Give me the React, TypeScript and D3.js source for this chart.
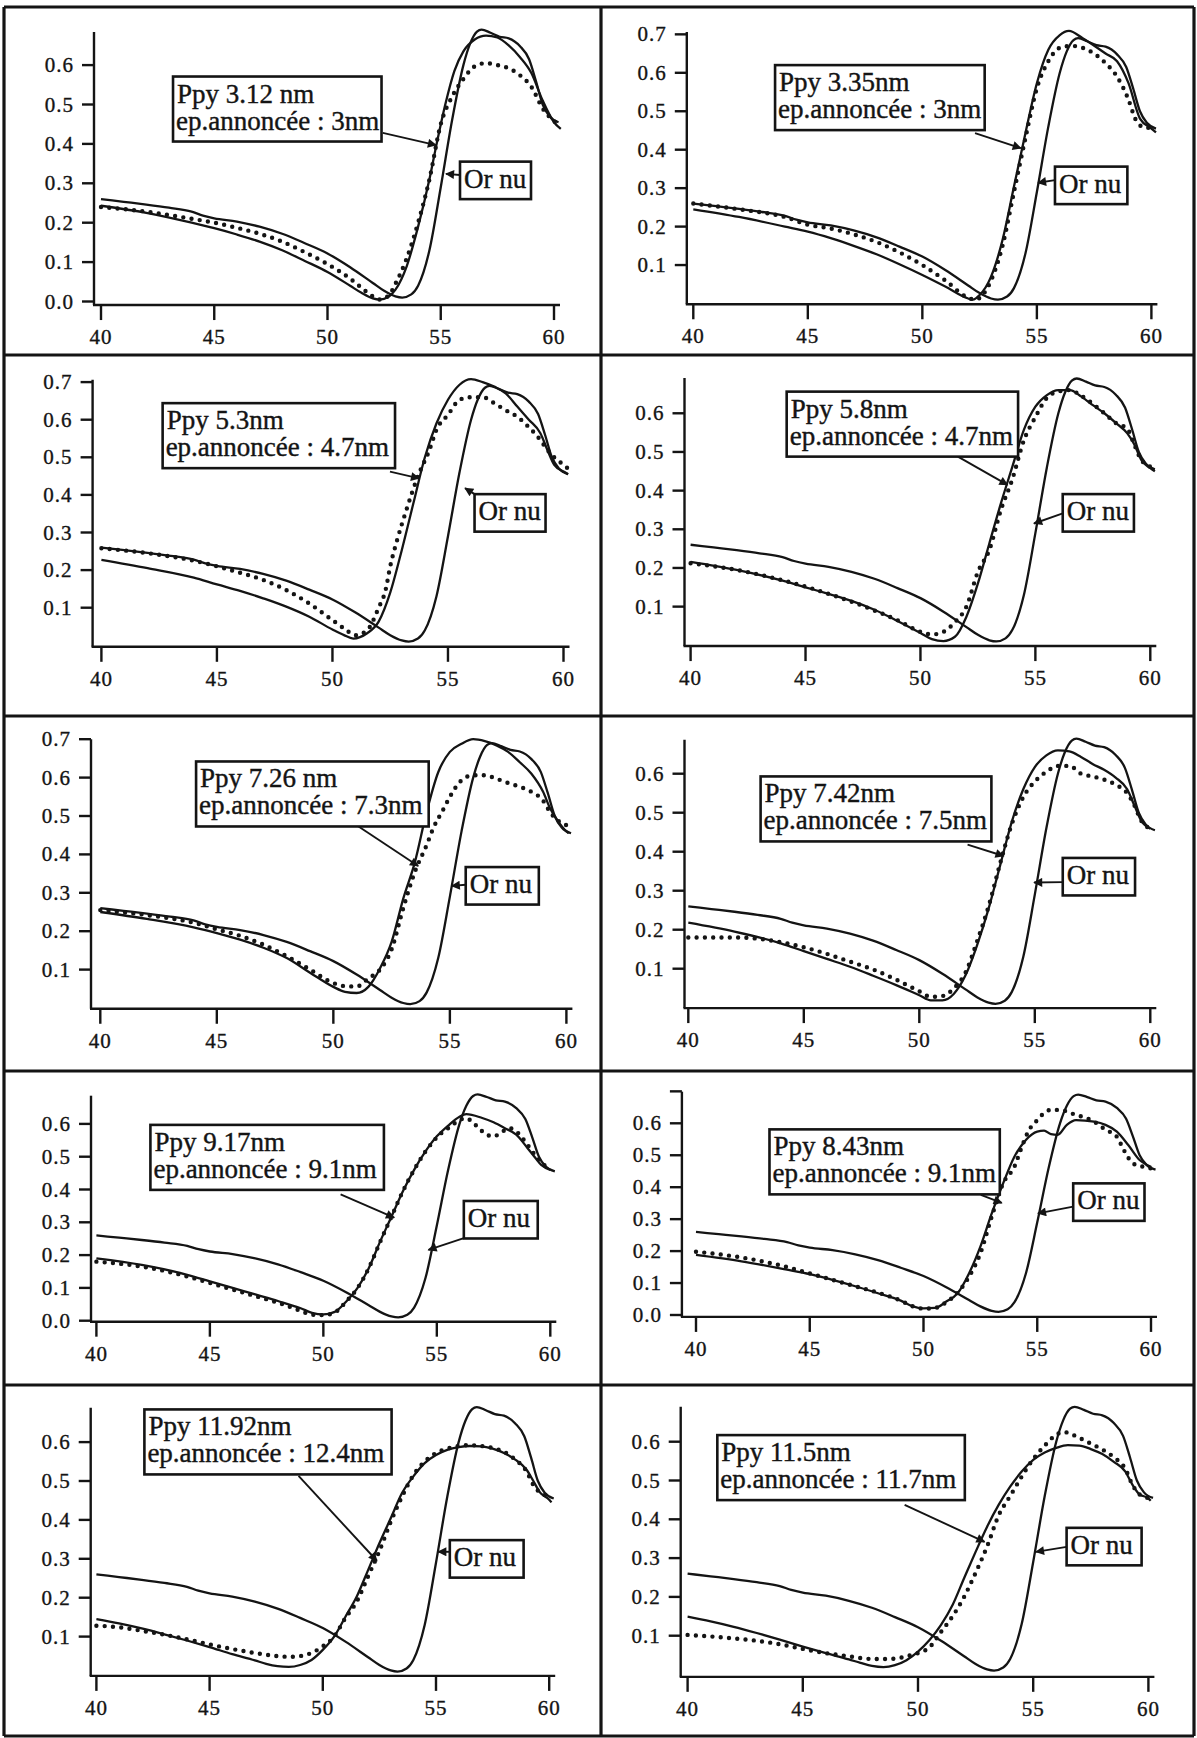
import React from "react";
import * as d3 from "d3";

type Pt = [number, number];

// ---------- DATA ----------
const X_TICKS = [40, 45, 50, 55, 60];

// bare gold reference ("Or nu"), identical in all panels
const OR_NU: Pt[] = [
  [40, 0.26], [41, 0.253], [42, 0.246], [43, 0.238], [44, 0.228], [44.5, 0.218], [45, 0.211],
  [46, 0.203], [47, 0.19], [48, 0.172], [49, 0.148], [50, 0.122], [51, 0.087], [52, 0.047],
  [52.5, 0.027], [53, 0.013], [53.3, 0.01], [53.7, 0.018], [54, 0.04], [54.5, 0.13], [55, 0.29],
  [55.5, 0.46], [56, 0.6], [56.3, 0.655], [56.6, 0.685], [56.8, 0.69], [57.2, 0.682], [57.6, 0.672],
  [58, 0.668], [58.5, 0.648], [58.9, 0.615], [59.2, 0.56], [59.5, 0.5], [59.8, 0.47], [60.2, 0.455],
];

// Ppy 3.12 nm
const FIT_312: Pt[] = [
  [40, 0.243], [42, 0.225], [44, 0.2], [45, 0.186], [46, 0.17], [47, 0.152], [48, 0.13], [49, 0.103],
  [50, 0.075], [51, 0.04], [51.5, 0.022], [52, 0.008], [52.3, 0.005], [52.7, 0.012], [53, 0.03],
  [53.5, 0.09], [54, 0.19], [54.5, 0.31], [54.8, 0.395], [55.2, 0.5], [55.6, 0.585], [56, 0.635],
  [56.5, 0.665], [57, 0.675], [57.5, 0.67], [58, 0.65], [58.5, 0.62], [59, 0.58], [59.5, 0.51],
  [60, 0.455], [60.3, 0.438],
];
const EXP_312: Pt[] = [
  [40, 0.24], [42, 0.228], [44, 0.21], [45, 0.2], [46, 0.187], [47, 0.172], [48, 0.152], [49, 0.125],
  [50, 0.095], [51, 0.058], [51.5, 0.035], [52, 0.013], [52.3, 0.005], [52.7, 0.015], [53, 0.045],
  [53.5, 0.11], [54, 0.2], [54.5, 0.31], [55, 0.45], [55.5, 0.52], [56, 0.565], [56.5, 0.597],
  [57, 0.605], [57.5, 0.6], [58, 0.592], [58.5, 0.574], [59, 0.545], [59.5, 0.49], [60, 0.458],
  [60.3, 0.445],
];

// Ppy 3.35 nm
const FIT_335: Pt[] = [
  [40, 0.245], [42, 0.225], [44, 0.2], [45, 0.187], [46, 0.17], [47, 0.15], [48, 0.128], [49, 0.102],
  [50, 0.074], [51, 0.044], [52, 0.013], [52.2, 0.01], [52.5, 0.022], [53, 0.07], [53.5, 0.165],
  [54, 0.304], [54.5, 0.443], [55, 0.573], [55.5, 0.66], [56, 0.698], [56.4, 0.709], [57, 0.69],
  [58, 0.65], [58.5, 0.63], [59, 0.573], [59.5, 0.481], [60, 0.455], [60.2, 0.445],
];
const EXP_335: Pt[] = [
  [40, 0.26], [42, 0.245], [44, 0.225], [45, 0.205], [46, 0.195], [47, 0.18], [48, 0.16], [49, 0.133],
  [50, 0.1], [51, 0.06], [52, 0.015], [52.3, 0.01], [53, 0.06], [53.5, 0.15], [54, 0.29], [54.5, 0.43],
  [55, 0.56], [55.5, 0.63], [56, 0.665], [56.5, 0.67], [57, 0.665], [57.5, 0.65], [58, 0.625],
  [58.5, 0.59], [59, 0.53], [59.3, 0.48], [59.6, 0.46], [60.2, 0.455],
];

// Ppy 5.3 nm
const FIT_53: Pt[] = [
  [40, 0.227], [42, 0.205], [44, 0.18], [45, 0.162], [46, 0.145], [47, 0.125], [48, 0.103], [49, 0.076],
  [50, 0.042], [50.5, 0.027], [50.9, 0.018], [51.5, 0.032], [52, 0.063], [52.5, 0.14], [53, 0.253],
  [53.5, 0.377], [54, 0.5], [54.5, 0.59], [55, 0.653], [55.5, 0.693], [56, 0.708], [56.5, 0.7],
  [57, 0.688], [57.5, 0.67], [58, 0.635], [58.5, 0.6], [59, 0.564], [59.3, 0.52], [59.6, 0.48],
  [60, 0.462], [60.2, 0.455],
];
const EXP_53: Pt[] = [
  [40, 0.258], [42, 0.245], [44, 0.225], [45, 0.21], [46, 0.193], [47, 0.174], [48, 0.147], [49, 0.111],
  [50, 0.067], [50.5, 0.045], [51, 0.027], [51.5, 0.04], [52, 0.1], [52.3, 0.147], [52.5, 0.21],
  [52.8, 0.28], [53.2, 0.36], [53.7, 0.45], [54.2, 0.52], [54.5, 0.573], [55, 0.613], [55.5, 0.653],
  [56, 0.66], [56.5, 0.66], [57, 0.644], [57.5, 0.625], [58, 0.608], [58.5, 0.58], [59, 0.546],
  [59.3, 0.52], [59.6, 0.5], [60, 0.48], [60.2, 0.47],
];

// Ppy 5.8 nm
const FIT_58: Pt[] = [
  [40, 0.216], [42, 0.195], [44, 0.167], [45, 0.15], [46, 0.133], [47, 0.115], [48, 0.092], [49, 0.063],
  [50, 0.032], [50.5, 0.016], [51, 0.011], [51.5, 0.022], [52, 0.074], [52.5, 0.16], [53, 0.264],
  [53.5, 0.367], [54, 0.462], [54.5, 0.557], [55, 0.617], [55.5, 0.647], [56, 0.66], [56.5, 0.66],
  [57, 0.643], [57.5, 0.621], [58, 0.6], [58.5, 0.575], [59, 0.548], [59.3, 0.52], [59.6, 0.48],
  [60, 0.458], [60.2, 0.45],
];
const EXP_58: Pt[] = [
  [40, 0.212], [42, 0.195], [44, 0.168], [45, 0.152], [46, 0.133], [47, 0.113], [48, 0.09], [49, 0.065],
  [50, 0.035], [50.5, 0.028], [51, 0.035], [51.5, 0.06], [52, 0.1], [52.5, 0.19], [53, 0.247],
  [53.5, 0.35], [54, 0.43], [54.5, 0.53], [55, 0.59], [55.5, 0.64], [56, 0.656], [56.5, 0.66],
  [57, 0.645], [58, 0.6], [58.5, 0.575], [59, 0.56], [59.3, 0.52], [59.6, 0.48], [60, 0.462],
  [60.2, 0.455],
];

// Ppy 7.26 nm
const FIT_726: Pt[] = [
  [40, 0.25], [42, 0.232], [44, 0.21], [45, 0.195], [46, 0.178], [47, 0.157], [48, 0.13], [49, 0.092],
  [50, 0.055], [50.5, 0.042], [51, 0.039], [51.5, 0.055], [52, 0.103], [52.5, 0.172], [53, 0.285],
  [53.5, 0.38], [54, 0.51], [54.5, 0.614], [55, 0.667], [55.5, 0.688], [56, 0.7], [56.5, 0.695],
  [57, 0.684], [57.5, 0.667], [58, 0.64], [58.5, 0.61], [59, 0.563], [59.3, 0.52], [59.6, 0.49],
  [60, 0.46], [60.1, 0.455],
];
const EXP_726: Pt[] = [
  [40, 0.255], [42, 0.242], [44, 0.222], [45, 0.205], [46, 0.188], [47, 0.165], [48, 0.135], [49, 0.1],
  [50, 0.065], [50.5, 0.057], [51, 0.056], [51.5, 0.077], [52, 0.1], [52.5, 0.153], [53, 0.26],
  [53.5, 0.355], [54, 0.424], [54.3, 0.47], [54.7, 0.515], [55, 0.55], [55.5, 0.593], [56, 0.606],
  [56.5, 0.606], [57, 0.597], [57.5, 0.586], [58, 0.576], [58.5, 0.563], [59, 0.54], [59.3, 0.51],
  [59.6, 0.49], [60, 0.476],
];

// Ppy 7.42 nm
const FIT_742: Pt[] = [
  [40, 0.218], [42, 0.195], [44, 0.165], [45, 0.145], [46, 0.125], [47, 0.105], [48, 0.082], [49, 0.058],
  [50, 0.032], [50.5, 0.019], [51, 0.019], [51.5, 0.036], [52, 0.083], [52.5, 0.16], [53, 0.254],
  [53.5, 0.365], [54, 0.476], [54.5, 0.56], [55, 0.617], [55.5, 0.647], [56, 0.66], [56.5, 0.657],
  [57, 0.643], [57.5, 0.625], [58, 0.61], [58.5, 0.59], [59, 0.56], [59.3, 0.52], [59.6, 0.48],
  [60, 0.459],
];
const EXP_742: Pt[] = [
  [40, 0.18], [41, 0.18], [42, 0.18], [43, 0.177], [44, 0.168], [45, 0.155], [46, 0.138], [47, 0.118],
  [48, 0.098], [49, 0.072], [50, 0.042], [50.5, 0.028], [51, 0.03], [51.5, 0.05], [52, 0.09],
  [52.5, 0.17], [53, 0.26], [53.5, 0.37], [54, 0.47], [54.5, 0.54], [55, 0.58], [55.5, 0.605],
  [56, 0.62], [56.5, 0.62], [57, 0.6], [57.5, 0.593], [58, 0.585], [58.5, 0.572], [59, 0.55],
  [59.3, 0.52], [59.6, 0.48], [60, 0.459],
];

// Ppy 9.17 nm
const FIT_917: Pt[] = [
  [40, 0.19], [42, 0.17], [44, 0.14], [45, 0.12], [46, 0.1], [47, 0.08], [48, 0.06], [49, 0.038],
  [49.5, 0.024], [50, 0.019], [50.5, 0.027], [51, 0.058], [51.5, 0.099], [52, 0.16], [52.5, 0.241],
  [53, 0.317], [53.5, 0.394], [54, 0.46], [54.5, 0.516], [55, 0.562], [55.5, 0.595], [56, 0.622],
  [56.3, 0.63], [57, 0.618], [57.5, 0.605], [58, 0.587], [58.5, 0.567], [59, 0.526], [59.3, 0.5],
  [59.6, 0.475], [60, 0.46],
];
const EXP_917: Pt[] = [
  [40, 0.18], [42, 0.165], [44, 0.135], [45, 0.115], [46, 0.095], [47, 0.075], [48, 0.055], [49, 0.03],
  [49.5, 0.018], [50, 0.017], [50.5, 0.025], [51, 0.058], [51.5, 0.099], [52, 0.16], [52.5, 0.24],
  [53, 0.317], [53.5, 0.394], [54, 0.46], [54.5, 0.516], [55.2, 0.572], [55.6, 0.592], [56, 0.612],
  [56.3, 0.617], [56.7, 0.597], [57.2, 0.567], [57.5, 0.562], [57.9, 0.577], [58.2, 0.587],
  [58.5, 0.577], [59, 0.536], [59.5, 0.49], [60, 0.46],
];

// Ppy 8.43 nm
const FIT_843: Pt[] = [
  [40, 0.188], [42, 0.168], [44, 0.142], [45, 0.128], [46, 0.11], [47, 0.09], [48, 0.068], [49, 0.045],
  [49.5, 0.028], [50, 0.021], [50.5, 0.022], [51, 0.042], [51.5, 0.068], [52, 0.13], [52.5, 0.214],
  [53, 0.318], [53.5, 0.412], [54, 0.496], [54.5, 0.548], [55, 0.574], [55.3, 0.577], [55.6, 0.566],
  [55.9, 0.564], [56.3, 0.595], [56.7, 0.61], [57.5, 0.605], [58, 0.595], [58.5, 0.574], [59, 0.532],
  [59.5, 0.485], [60, 0.464],
];
const EXP_843: Pt[] = [
  [40, 0.198], [41, 0.19], [42, 0.18], [44, 0.15], [45, 0.13], [46, 0.11], [47, 0.09], [48, 0.07],
  [49, 0.045], [49.5, 0.028], [50, 0.02], [50.5, 0.022], [51, 0.04], [51.5, 0.07], [52, 0.12],
  [52.5, 0.193], [53, 0.308], [53.5, 0.412], [54, 0.465], [54.3, 0.522], [54.6, 0.574], [55, 0.61],
  [55.3, 0.632], [55.6, 0.642], [56, 0.642], [56.3, 0.637], [56.7, 0.626], [57, 0.62], [57.5, 0.605],
  [58, 0.58], [58.5, 0.558], [58.8, 0.517], [59.2, 0.475], [59.6, 0.465], [60, 0.459],
];

// Ppy 11.92 nm
const FIT_1192: Pt[] = [
  [40, 0.145], [41, 0.134], [42, 0.121], [43, 0.106], [44, 0.09], [45, 0.073], [46, 0.055], [47, 0.039],
  [47.5, 0.03], [48, 0.024], [48.5, 0.022], [49, 0.027], [49.5, 0.04], [50, 0.066], [50.5, 0.1],
  [51, 0.151], [51.5, 0.203], [52, 0.271], [52.5, 0.34], [53, 0.404], [53.5, 0.469], [54, 0.512],
  [54.5, 0.546], [55, 0.567], [55.5, 0.58], [56, 0.587], [56.5, 0.59], [57, 0.589], [57.5, 0.583],
  [58, 0.572], [58.5, 0.555], [59, 0.529], [59.3, 0.5], [59.6, 0.47], [60, 0.452], [60.1, 0.445],
];
const EXP_1192: Pt[] = [
  [40, 0.128], [41, 0.124], [42, 0.115], [43, 0.105], [44, 0.093], [45, 0.08], [46, 0.068], [47, 0.058],
  [48, 0.05], [48.5, 0.048], [49, 0.05], [49.5, 0.058], [50, 0.075], [50.5, 0.1], [51, 0.148],
  [51.5, 0.19], [52, 0.255], [52.5, 0.32], [53, 0.395], [53.5, 0.46], [54, 0.515], [54.5, 0.55],
  [55, 0.572], [55.5, 0.583], [56, 0.59], [56.5, 0.592], [57, 0.59], [57.5, 0.585], [58, 0.575],
  [58.5, 0.555], [59, 0.525], [59.3, 0.49], [59.6, 0.47], [60, 0.46], [60.1, 0.458],
];

// Ppy 11.5 nm
const FIT_115: Pt[] = [
  [40, 0.149], [41, 0.137], [42, 0.123], [43, 0.107], [44, 0.09], [45, 0.072], [46, 0.055], [47, 0.039],
  [47.5, 0.03], [48, 0.022], [48.5, 0.019], [49, 0.024], [49.5, 0.037], [50, 0.059], [50.5, 0.089],
  [51, 0.128], [51.5, 0.179], [52, 0.248], [52.5, 0.316], [53, 0.381], [53.5, 0.437], [54, 0.484],
  [54.5, 0.523], [55, 0.553], [55.5, 0.572], [56, 0.584], [56.5, 0.591], [57, 0.59], [57.5, 0.581],
  [58, 0.568], [58.5, 0.548], [59, 0.523], [59.3, 0.49], [59.6, 0.465], [60, 0.454], [60.1, 0.448],
];
const EXP_115: Pt[] = [
  [40, 0.102], [41, 0.098], [42, 0.093], [43, 0.087], [44, 0.078], [45, 0.066], [46, 0.055], [47, 0.047],
  [48, 0.04], [48.5, 0.04], [49, 0.041], [49.5, 0.047], [50, 0.055], [50.5, 0.07], [51, 0.11],
  [51.5, 0.15], [52, 0.2], [52.5, 0.262], [53, 0.33], [53.5, 0.41], [54, 0.46], [54.5, 0.51],
  [55, 0.555], [55.5, 0.59], [56, 0.618], [56.3, 0.625], [57, 0.61], [57.5, 0.595], [58, 0.58],
  [58.5, 0.56], [59, 0.53], [59.3, 0.49], [59.6, 0.465], [60, 0.455],
];

const LABELS_PPY = [
  ["Ppy 3.12 nm", "ep.annoncée : 3nm"],
  ["Ppy 3.35nm", "ep.annoncée : 3nm"],
  ["Ppy 5.3nm", "ep.annoncée : 4.7nm"],
  ["Ppy 5.8nm", "ep.annoncée : 4.7nm"],
  ["Ppy 7.26 nm", "ep.annoncée : 7.3nm"],
  ["Ppy 7.42nm", "ep.annoncée : 7.5nm"],
  ["Ppy 9.17nm", "ep.annoncée : 9.1nm"],
  ["Ppy 8.43nm", "ep.annoncée : 9.1nm"],
  ["Ppy 11.92nm", "ep.annoncée : 12.4nm"],
  ["Ppy 11.5nm", "ep.annoncée : 11.7nm"],
];
const LABEL_OR = "Or nu";

const FITS = [FIT_312, FIT_335, FIT_53, FIT_58, FIT_726, FIT_742, FIT_917, FIT_843, FIT_1192, FIT_115];
const EXPS = [EXP_312, EXP_335, EXP_53, EXP_58, EXP_726, EXP_742, EXP_917, EXP_843, EXP_1192, EXP_115];

// ---------- LAYOUT ----------
interface Layout {
  x40: number; x60: number; y0: number; k: number; axisX: number;
  yTop: number; yBot: number; yTicks: number[]; extraTick?: number;
  ppyBox: Pt; ppyW: number; ppyArrow: [Pt, Pt];
  orBox: Pt; orW: number; orArrow: [Pt, Pt];
}
const LAYOUT: Layout[] = [
  { x40: 101, x60: 554, y0: 301.5, k: 394, axisX: 94, yTop: 0.684, yBot: -0.009,
    yTicks: [0, 0.1, 0.2, 0.3, 0.4, 0.5, 0.6],
    ppyBox: [43.18, 0.571], ppyW: 208.5, ppyArrow: [[52.44, 0.428], [54.79, 0.397]],
    orBox: [55.85, 0.355], orW: 71, orArrow: [[55.85, 0.321], [55.23, 0.324]] },
  { x40: 693.3, x60: 1151.4, y0: 303.5, k: 384.5, axisX: 686.8, yTop: 0.706, yBot: -0.002,
    yTicks: [0.1, 0.2, 0.3, 0.4, 0.5, 0.6, 0.7],
    ppyBox: [43.57, 0.62], ppyW: 209.6, ppyArrow: [[52.3, 0.443], [54.3, 0.404]],
    orBox: [55.79, 0.356], orW: 72.4, orArrow: [[55.79, 0.321], [55.05, 0.314]] },
  { x40: 101.4, x60: 563.5, y0: 645.3, k: 376, axisX: 92.6, yTop: 0.706, yBot: -0.004,
    yTicks: [0.1, 0.2, 0.3, 0.4, 0.5, 0.6, 0.7],
    ppyBox: [42.65, 0.644], ppyW: 232.4, ppyArrow: [[52.49, 0.462], [53.75, 0.444]],
    orBox: [56.15, 0.402], orW: 71, orArrow: [[56.15, 0.402], [55.74, 0.418]] },
  { x40: 690.6, x60: 1150.3, y0: 645.3, k: 386.7, axisX: 684.5, yTop: 0.691, yBot: -0.002,
    yTicks: [0.1, 0.2, 0.3, 0.4, 0.5, 0.6],
    ppyBox: [44.18, 0.656], ppyW: 231.4, ppyArrow: [[51.63, 0.488], [53.79, 0.415]],
    orBox: [56.19, 0.391], orW: 71.2, orArrow: [[56.19, 0.341], [54.94, 0.315]] },
  { x40: 100.3, x60: 566.4, y0: 1008, k: 384, axisX: 91, yTop: 0.7, yBot: -0.002,
    yTicks: [0.1, 0.2, 0.3, 0.4, 0.5, 0.6, 0.7],
    ppyBox: [44.11, 0.642], ppyW: 232.6, ppyArrow: [[51.05, 0.474], [53.64, 0.37]],
    orBox: [55.68, 0.367], orW: 73.1, orArrow: [[55.68, 0.321], [55.08, 0.318]] },
  { x40: 688.3, x60: 1150.3, y0: 1007.7, k: 390, axisX: 684.5, yTop: 0.687, yBot: -0.001,
    yTicks: [0.1, 0.2, 0.3, 0.4, 0.5, 0.6],
    ppyBox: [43.13, 0.593], ppyW: 230.8, ppyArrow: [[52.09, 0.418], [53.65, 0.389]],
    orBox: [56.21, 0.384], orW: 72.3, orArrow: [[56.21, 0.322], [54.97, 0.321]] },
  { x40: 96.4, x60: 550.3, y0: 1320.7, k: 328, axisX: 91, yTop: 0.686, yBot: -0.003,
    yTicks: [0, 0.1, 0.2, 0.3, 0.4, 0.5, 0.6],
    ppyBox: [42.38, 0.597], ppyW: 233.5, ppyArrow: [[50.76, 0.385], [53.12, 0.314]],
    orBox: [56.19, 0.365], orW: 73.9, orArrow: [[56.19, 0.252], [54.63, 0.216]] },
  { x40: 696, x60: 1151, y0: 1315, k: 319.5, axisX: 681.9, yTop: 0.699, yBot: -0.006,
    yTicks: [0, 0.1, 0.2, 0.3, 0.4, 0.5, 0.6], extraTick: 0.7,
    ppyBox: [43.23, 0.581], ppyW: 230.3, ppyArrow: [[52.52, 0.376], [53.44, 0.351]],
    orBox: [56.58, 0.412], orW: 71.3, orArrow: [[56.58, 0.339], [55.03, 0.318]] },
  { x40: 96.4, x60: 549.2, y0: 1675.5, k: 389, axisX: 90.7, yTop: 0.688, yBot: -0.001,
    yTicks: [0.1, 0.2, 0.3, 0.4, 0.5, 0.6],
    ppyBox: [42.12, 0.684], ppyW: 247.2, ppyArrow: [[48.93, 0.513], [52.39, 0.295]],
    orBox: [55.61, 0.348], orW: 73.8, orArrow: [[55.61, 0.318], [55.1, 0.318]] },
  { x40: 687.6, x60: 1148.4, y0: 1674.5, k: 388, axisX: 680.7, yTop: 0.69, yBot: -0.006,
    yTicks: [0.1, 0.2, 0.3, 0.4, 0.5, 0.6],
    ppyBox: [41.29, 0.617], ppyW: 247.5, ppyArrow: [[49.42, 0.437], [52.89, 0.342]],
    orBox: [56.45, 0.378], orW: 75, orArrow: [[56.45, 0.329], [55.12, 0.316]] },
];

const H_RULES = [7, 355, 716, 1071, 1385, 1736];
const V_RULES = [4, 601, 1194];

const INK = "#141414";
const FONT = "'Liberation Serif', 'Times New Roman', serif";

function Panel({ idx }: { idx: number }) {
  const L = LAYOUT[idx];
  const x = d3.scaleLinear().domain([40, 60]).range([L.x40, L.x60]);
  const y = d3.scaleLinear().domain([0, 1]).range([L.y0, L.y0 - L.k]);
  const line = d3.line<Pt>().x((d) => x(d[0])).y((d) => y(d[1])).curve(d3.curveMonotoneX);
  const xAxisY = y(L.yBot);
  const [bx, by] = L.ppyBox;
  const [ox, oy] = L.orBox;
  const lines = LABELS_PPY[idx];
  const tickText = { fontSize: 21, letterSpacing: 1, fontFamily: FONT, fill: INK, stroke: INK, strokeWidth: 0.35 };
  const annText = { fontSize: 27, fontFamily: FONT, fill: INK, stroke: INK, strokeWidth: 0.4 };
  return (
    <g>
      <line x1={L.axisX} x2={L.axisX} y1={y(L.yTop)} y2={xAxisY} stroke={INK} strokeWidth={2.4} />
      <line x1={L.axisX - 1} x2={x(60) + 6} y1={xAxisY} y2={xAxisY} stroke={INK} strokeWidth={2.4} />
      {L.yTicks.map((t) => (
        <g key={"y" + t}>
          <line x1={L.axisX - 12} x2={L.axisX} y1={y(t)} y2={y(t)} stroke={INK} strokeWidth={2.4} />
          <text x={L.axisX - 20} y={y(t) + 7} textAnchor="end" {...tickText}>{t.toFixed(1)}</text>
        </g>
      ))}
      {L.extraTick !== undefined && (
        <line x1={L.axisX - 12} x2={L.axisX} y1={y(L.extraTick)} y2={y(L.extraTick)} stroke={INK} strokeWidth={2.4} />
      )}
      {X_TICKS.map((t) => (
        <g key={"x" + t}>
          <line x1={x(t)} x2={x(t)} y1={xAxisY} y2={xAxisY + 15} stroke={INK} strokeWidth={2.4} />
          <text x={x(t)} y={xAxisY + 39} textAnchor="middle" {...tickText}>{t}</text>
        </g>
      ))}
      <path d={line(OR_NU) || ""} fill="none" stroke={INK} strokeWidth={2.3} />
      <path d={line(FITS[idx]) || ""} fill="none" stroke={INK} strokeWidth={2.3} />
      <path d={line(EXPS[idx]) || ""} fill="none" stroke={INK} strokeWidth={4.4}
        strokeLinecap="round" strokeDasharray="0 8.3" />
      <line x1={x(L.ppyArrow[0][0])} y1={y(L.ppyArrow[0][1])} x2={x(L.ppyArrow[1][0])} y2={y(L.ppyArrow[1][1])}
        stroke={INK} strokeWidth={1.9} markerEnd="url(#ah)" />
      <line x1={x(L.orArrow[0][0])} y1={y(L.orArrow[0][1])} x2={x(L.orArrow[1][0])} y2={y(L.orArrow[1][1])}
        stroke={INK} strokeWidth={1.9} markerEnd="url(#ah)" />
      <rect x={x(bx)} y={y(by)} width={L.ppyW} height={65} fill="#fff" stroke={INK} strokeWidth={2.6} />
      <text x={x(bx) + 4} y={y(by) + 26} {...annText}>{lines[0]}</text>
      <text x={x(bx) + 3} y={y(by) + 53} {...annText}>{lines[1]}</text>
      <rect x={x(ox)} y={y(oy)} width={L.orW} height={37.5} fill="#fff" stroke={INK} strokeWidth={2.6} />
      <text x={x(ox) + 4} y={y(oy) + 26} {...annText}>{LABEL_OR}</text>
    </g>
  );
}

export default function App() {
  return (
    <svg width={1197} height={1738} viewBox="0 0 1197 1738"
      style={{ position: "absolute", left: 0, top: 0, background: "#fff" }}>
      <defs>
        <marker id="ah" viewBox="0 0 10 10" refX="9" refY="5" markerWidth="12" markerHeight="9"
          markerUnits="userSpaceOnUse" orient="auto">
          <path d="M0,0 L10,5 L0,10 z" fill={INK} />
        </marker>
      </defs>
      <rect x={0} y={0} width={1197} height={1738} fill="#fff" />
      {LAYOUT.map((_, i) => <Panel key={i} idx={i} />)}
      {H_RULES.map((h) => (
        <line key={"h" + h} x1={V_RULES[0]} x2={V_RULES[2]} y1={h} y2={h} stroke={INK} strokeWidth={3.2} />
      ))}
      {V_RULES.map((v) => (
        <line key={"v" + v} x1={v} x2={v} y1={H_RULES[0]} y2={H_RULES[H_RULES.length - 1]} stroke={INK} strokeWidth={3.2} />
      ))}
    </svg>
  );
}
